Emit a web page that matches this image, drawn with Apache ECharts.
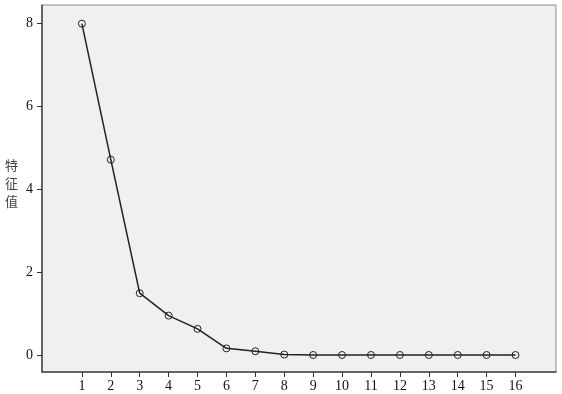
<!DOCTYPE html>
<html>
<head>
<meta charset="utf-8">
<script src="https://cdn.jsdelivr.net/npm/echarts@6/dist/echarts.min.js"></script>
<style>html,body{margin:0;padding:0;background:#fff}#c{width:562px;height:394px}</style>
</head>
<body>
<div id="c"></div>
<script>
const components = [1,2,3,4,5,6,7,8,9,10,11,12,13,14,15,16];
const eigenvalues = [8.0,4.72,1.50,0.96,0.64,0.17,0.10,0.02,0.01,0.01,0.01,0.01,0.01,0.01,0.01,0.01];
const yTicks = [0,2,4,6,8];
const yLabel = '特\n征\n值';

const chart = echarts.init(document.getElementById('c'), null, {renderer:'canvas'});
const serif = '"Liberation Serif","DejaVu Serif",serif';
chart.setOption({
  animation:false,
  backgroundColor:'#ffffff',
  grid:{left:42,right:6,top:5,bottom:22,show:true,backgroundColor:'#f0f0f0',borderColor:'#8a8a8a',borderWidth:1},
  xAxis:{
    type:'value',min:-0.38,max:17.4,
    splitLine:{show:false},
    axisLine:{show:true,onZero:false,lineStyle:{color:'#444',width:1.5}},
    axisTick:{show:true,inside:false,length:5,customValues:components,lineStyle:{color:'#333',width:1}},
    axisLabel:{customValues:components,color:'#111',fontFamily:serif,fontSize:14,margin:7}
  },
  yAxis:{
    type:'value',min:-0.4,max:8.45,
    splitLine:{show:false},
    axisLine:{show:true,onZero:false,lineStyle:{color:'#444',width:1.5}},
    axisTick:{show:true,inside:false,length:5,customValues:yTicks,lineStyle:{color:'#333',width:1}},
    axisLabel:{customValues:yTicks,color:'#111',fontFamily:serif,fontSize:14,margin:9}
  },
  graphic:[{type:'text',left:5,top:156,style:{text:yLabel,fill:'#444',font:'13px "Noto Sans CJK SC"',lineHeight:18}}],
  series:[{
    type:'line',
    data:components.map((c,i)=>[c,eigenvalues[i]]),
    symbol:'circle',symbolSize:7,
    itemStyle:{color:'rgba(0,0,0,0)',borderColor:'#222',borderWidth:1},
    lineStyle:{color:'#222',width:1.5}
  }]
});
</script>
</body>
</html>
